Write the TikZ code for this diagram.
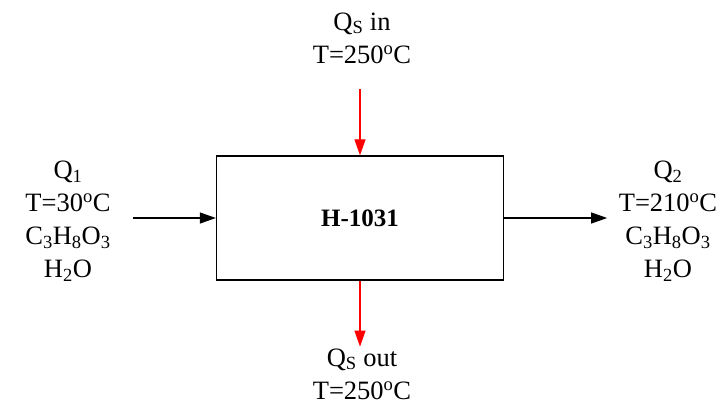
\documentclass[tikz,border=0pt]{standalone}
\usepackage{fontspec}
\setmainfont{Liberation Serif}
\usetikzlibrary{arrows.meta,positioning,calc}
\definecolor{FlowRed}{RGB}{255,0,0}

\begin{document}
\begin{tikzpicture}[
          x=1pt,y=-1pt,
          txt/.style={align=center,inner sep=0pt,
                     font=\fontsize{26.5}{33}\selectfont,text=black},
          unit/.style={draw=black,line width=1.3pt,fill=white,
                     minimum width=287pt,minimum height=124pt,
                     font=\fontsize{25}{28}\selectfont\bfseries},
          ar/.style={-{Triangle[length=16pt,width=11pt]},line width=1.1pt,black},
          hot/.style={ar,FlowRed}
        ]
          \useasboundingbox (0,0) rectangle (720,405);
          \node(h1031)[unit] at (360,218){H-1031};

          \node(q1)[txt] at (68,221){Q\textsubscript{1}\\T=30\textsuperscript{o}C\\C\textsubscript{3}H\textsubscript{8}O\textsubscript{3}\\H\textsubscript{2}O};
          \node(q2)[txt] at (668,221){Q\textsubscript{2}\\T=210\textsuperscript{o}C\\C\textsubscript{3}H\textsubscript{8}O\textsubscript{3}\\H\textsubscript{2}O};
          \node(qsin)[txt] at (362,38){Q\textsubscript{S} in\\T=250\textsuperscript{o}C};
          \node(qsout)[txt] at (362,374){Q\textsubscript{S} out\\T=250\textsuperscript{o}C};

          \coordinate(feed) at ($(h1031.west)+(-83,0)$);
          \coordinate(prod) at ($(h1031.east)+(103,0)$);
          \coordinate(stin) at ($(h1031.north)+(0,-66)$);
          \coordinate(stout) at ($(h1031.south)+(0,66)$);

          \draw[ar] (feed) -- (h1031.west);
          \draw[ar] (h1031.east) -- (prod);
          \draw[hot] (stin) -- (h1031.north);
          \draw[hot] (h1031.south) -- (stout);
        \end{tikzpicture}
\end{document}
